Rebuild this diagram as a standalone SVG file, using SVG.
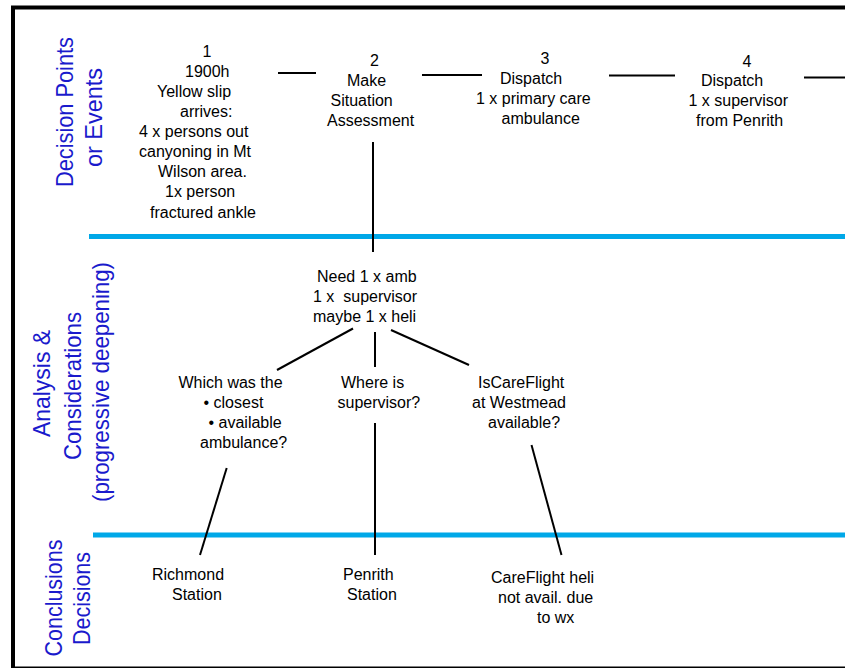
<svg xmlns="http://www.w3.org/2000/svg" width="845" height="668" viewBox="0 0 845 668">
<style>
.t{font-family:"Liberation Sans",Arial,sans-serif;font-size:16px;fill:#000}
.m{text-anchor:middle}
.lab{font-family:"Liberation Sans",Arial,sans-serif;font-size:24px;fill:#1a1acc;text-anchor:middle}
.c{stroke:#000;stroke-width:2;fill:none}
.sep{stroke:#00a8e8;stroke-width:5}
</style>
<rect width="845" height="668" fill="#fff"/>
<rect id="frame" x="13" y="7.5" width="900" height="661" fill="none" stroke="#000" stroke-width="4"/>
<g id="separators">
<line class="sep" x1="89" y1="236.5" x2="845" y2="236.5"/>
<line class="sep" x1="93" y1="535" x2="845" y2="535"/>
</g>
<g id="lane-labels">
<text class="lab" transform="translate(73,112) rotate(-90)" textLength="150" lengthAdjust="spacingAndGlyphs">Decision Points</text>
<text class="lab" transform="translate(102,117.5) rotate(-90)" textLength="99" lengthAdjust="spacingAndGlyphs">or Events</text>
<text class="lab" transform="translate(50,383.5) rotate(-90)" textLength="107" lengthAdjust="spacingAndGlyphs">Analysis &amp;</text>
<text class="lab" transform="translate(81,386) rotate(-90)" textLength="148" lengthAdjust="spacingAndGlyphs">Considerations</text>
<text class="lab" transform="translate(109,382) rotate(-90)" textLength="240" lengthAdjust="spacingAndGlyphs">(progressive deepening)</text>
<text class="lab" transform="translate(61.5,598) rotate(-90)" textLength="117" lengthAdjust="spacingAndGlyphs">Conclusions</text>
<text class="lab" transform="translate(90,598.5) rotate(-90)" textLength="93" lengthAdjust="spacingAndGlyphs">Decisions</text>
</g>
<g id="connectors">
<line class="c" x1="278" y1="73" x2="316" y2="73"/>
<line class="c" x1="422" y1="75" x2="482" y2="75"/>
<line class="c" x1="609" y1="75.5" x2="675" y2="75.5"/>
<line class="c" x1="804" y1="77.5" x2="845" y2="77.5"/>
<line class="c" x1="373" y1="142" x2="373" y2="252"/>
<line class="c" x1="353" y1="328.5" x2="277" y2="370"/>
<line class="c" x1="375" y1="332" x2="375" y2="367"/>
<line class="c" x1="391" y1="330" x2="469" y2="365"/>
<line class="c" x1="226.7" y1="468" x2="200" y2="555"/>
<line class="c" x1="375" y1="423" x2="375" y2="555"/>
<line class="c" x1="531.5" y1="445" x2="561.5" y2="555"/>
</g>
<g id="node1">
<text class="t m" x="207" y="57">1</text>
<text class="t" x="185" y="77">1900h</text>
<text class="t" x="157" y="97">Yellow slip</text>
<text class="t" x="180" y="117">arrives:</text>
<text class="t" x="139" y="137">4 x persons out</text>
<text class="t" x="139" y="157">canyoning in Mt</text>
<text class="t" x="158" y="177">Wilson area.</text>
<text class="t" x="165" y="197">1x person</text>
<text class="t" x="150" y="217.5">fractured ankle</text>
</g>
<g id="node2">
<text class="t m" x="374.5" y="66">2</text>
<text class="t" x="347" y="86">Make</text>
<text class="t" x="330.5" y="106">Situation</text>
<text class="t" x="327" y="126">Assessment</text>
</g>
<g id="node3">
<text class="t m" x="545" y="64">3</text>
<text class="t" x="500" y="84">Dispatch</text>
<text class="t" x="476" y="104">1 x primary care</text>
<text class="t" x="501.5" y="124">ambulance</text>
</g>
<g id="node4">
<text class="t m" x="747" y="66.5">4</text>
<text class="t" x="701" y="86">Dispatch</text>
<text class="t" x="688.5" y="106">1 x supervisor</text>
<text class="t" x="696" y="126">from Penrith</text>
</g>
<g id="needs">
<text class="t" x="317" y="282">Need 1 x amb</text>
<text class="t" x="313" y="302" xml:space="preserve">1 x  supervisor</text>
<text class="t" x="313" y="322">maybe 1 x heli</text>
</g>
<g id="q-ambulance">
<text class="t" x="178.5" y="388">Which was the</text>
<text class="t" x="203.5" y="408">• closest</text>
<text class="t" x="208.5" y="428">• available</text>
<text class="t" x="200" y="448">ambulance?</text>
</g>
<g id="q-supervisor">
<text class="t" x="341" y="388">Where is</text>
<text class="t" x="337.5" y="408">supervisor?</text>
</g>
<g id="q-careflight">
<text class="t" x="478" y="388">IsCareFlight</text>
<text class="t" x="472" y="408">at Westmead</text>
<text class="t" x="488" y="428">available?</text>
</g>
<g id="c-richmond">
<text class="t" x="152" y="580">Richmond</text>
<text class="t" x="172" y="600">Station</text>
</g>
<g id="c-penrith">
<text class="t" x="343" y="580">Penrith</text>
<text class="t" x="347" y="600">Station</text>
</g>
<g id="c-careflight">
<text class="t" x="491" y="583">CareFlight heli</text>
<text class="t" x="498" y="603">not avail. due</text>
<text class="t" x="537" y="623">to wx</text>
</g>
</svg>
